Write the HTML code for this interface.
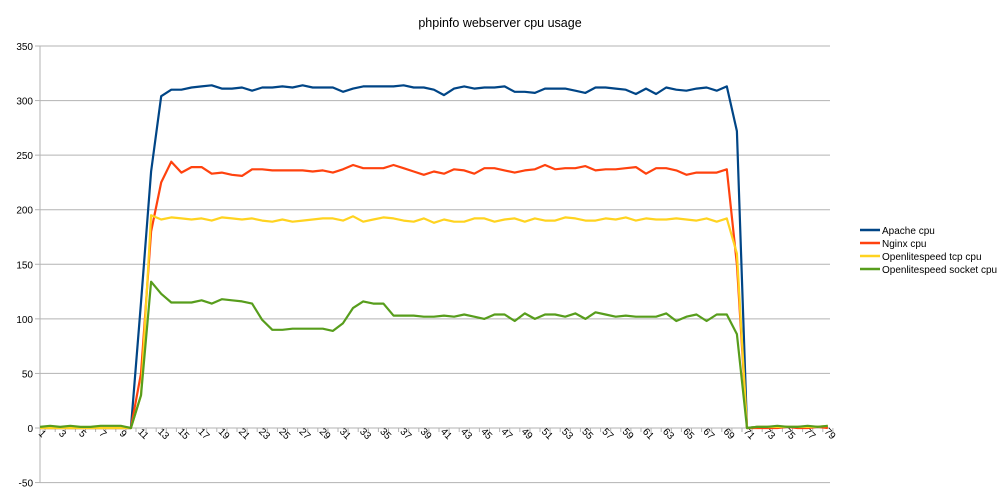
<!DOCTYPE html><html><head><style>body{margin:0;background:#fff}svg{display:block}text{font-family:"Liberation Sans",sans-serif;font-size:10px;fill:#000}</style></head><body>
<svg id="s" width="1000" height="500" xmlns="http://www.w3.org/2000/svg">
<text x="500" y="27" text-anchor="middle" style="font-size:12.5px">phpinfo webserver cpu usage</text>
<g id="grid"></g>
<g id="lines" fill="none" stroke-width="2.2" stroke-linejoin="round"></g>
<g font-size="10">
<line x1="860" y1="230" x2="880" y2="230" stroke="#004586" stroke-width="2.5"/><text x="882" y="234">Apache cpu</text>
<line x1="860" y1="243" x2="880" y2="243" stroke="#ff420e" stroke-width="2.5"/><text x="882" y="247">Nginx cpu</text>
<line x1="860" y1="256" x2="880" y2="256" stroke="#ffd320" stroke-width="2.5"/><text x="882" y="260">Openlitespeed tcp cpu</text>
<line x1="860" y1="269" x2="880" y2="269" stroke="#579d1c" stroke-width="2.5"/><text x="882" y="273">Openlitespeed socket cpu</text>
</g>
</svg>
<script>
const Y=v=>428-v*(382/350), X=i=>40+(i-1)*10.1;
const g=document.getElementById('grid');let h='';
for(let v=-50;v<=350;v+=50){const y=Y(v);h+=`<line x1="40" x2="830" y1="${y}" y2="${y}" stroke="#b3b3b3" stroke-width="1"/><line x1="35" x2="40" y1="${y}" y2="${y}" stroke="#b3b3b3"/><text x="33" y="${y+4}" text-anchor="end">${v}</text>`;}
h+=`<line x1="40" x2="40" y1="${Y(350)}" y2="${Y(-50)}" stroke="#b3b3b3"/>`;
for(let i=1;i<=80;i++){const x=40+(i-1)*10.1-5;if(i>1)h+=`<line x1="${x}" x2="${x}" y1="428" y2="432" stroke="#b3b3b3"/>`;}
for(let i=1;i<=79;i+=2){const x=X(i);h+=`<text transform="translate(${x},${436}) rotate(45)" text-anchor="middle">${i}</text>`;}
g.innerHTML=h;
const z=n=>Array(n).fill(0);
const ap=[...z(10),115,235,304,310,310,312,313,314,311,311,312,309,312,312,313,312,314,312,312,312,308,311,313,313,313,313,314,312,312,310,305,311,313,311,312,312,313,308,308,307,311,311,311,309,307,312,312,311,310,306,311,306,312,310,309,311,312,309,313,272,0,1,1,1,1,1,1,1,1];
const ng=[...z(10),50,180,225,244,234,239,239,233,234,232,231,237,237,236,236,236,236,235,236,234,237,241,238,238,238,241,238,235,232,235,233,237,236,233,238,238,236,234,236,237,241,237,238,238,240,236,237,237,238,239,233,238,238,236,232,234,234,234,237,150,0,0,0,0,1,0,0,1,0];
const yl=[...z(10),30,195,191,193,192,191,192,190,193,192,191,192,190,189,191,189,190,191,192,192,190,194,189,191,193,192,190,189,192,188,191,189,189,192,192,189,191,192,189,192,190,190,193,192,190,190,192,191,193,190,192,191,191,192,191,190,192,189,192,160,0,1,1,1,1,1,1,1,2];
const gr=[1,2,1,2,1,1,2,2,2,0,30,134,123,115,115,115,117,114,118,117,116,114,99,90,90,91,91,91,91,89,96,110,116,114,114,103,103,103,102,102,103,102,104,102,100,104,104,98,105,100,104,104,102,105,100,106,104,102,103,102,102,102,105,98,102,104,98,104,104,86,0,1,1,2,1,1,2,1,2];
const L=document.getElementById('lines');let s='';
[[ap,'#004586'],[ng,'#ff420e'],[yl,'#ffd320'],[gr,'#579d1c']].forEach(([d,c])=>{s+=`<polyline stroke="${c}" points="${d.slice(0,79).map((v,i)=>X(i+1).toFixed(1)+','+Y(v).toFixed(1)).join(' ')}"/>`;});
L.innerHTML=s;
</script>
</body></html>
